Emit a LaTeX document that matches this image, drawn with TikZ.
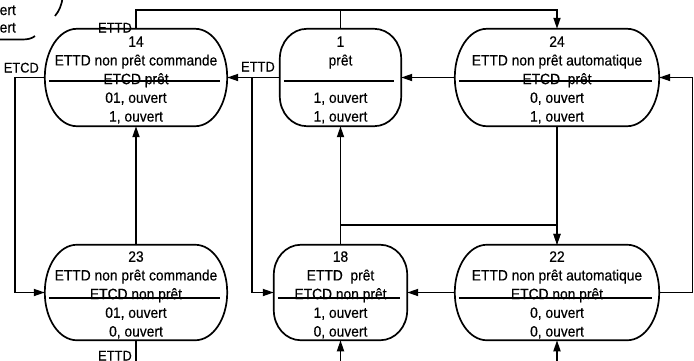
\documentclass[tikz,border=0pt]{standalone}
\usepackage{fontspec}
\setmainfont[FakeStretch=0.92,FakeBold=0.4]{Liberation Sans}
\usetikzlibrary{arrows.meta,calc}
% draws a capsule (elliptical corners) around a named node: #1 name, #2 rx, #3 ry
\newcommand\drawcapsule[3]{%
  \draw[border] ([xshift=#2]#1.north west) -- ([xshift=-#2]#1.north east)
    arc[start angle=90,end angle=0,x radius=#2,y radius=#3]
    -- ([yshift=#3]#1.south east)
    arc[start angle=0,end angle=-90,x radius=#2,y radius=#3]
    -- ([xshift=#2]#1.south west)
    arc[start angle=270,end angle=180,x radius=#2,y radius=#3]
    -- ([yshift=-#3]#1.north west)
    arc[start angle=180,end angle=90,x radius=#2,y radius=#3] -- cycle;}
% divider: #1 node, #2 vertical shift
\newcommand\drawdivider[2]{%
  \draw[border] ([xshift=4pt,yshift=#2]#1.west) -- ([xshift=-7pt,yshift=#2]#1.east);}
\newcommand\topstrut{\rule{0pt}{16.8pt}}
\newcommand\botstrut{\rule[-3.5pt]{0pt}{3.5pt}}
\tikzset{
  stnode/.style={draw=none, inner sep=0pt, align=center,
    font=\fontsize{15}{18.7}\selectfont},
  border/.style={line width=1.7pt},
  conn/.style={line width=1.7pt},
  arrowto/.style={-{Triangle[length=11pt,width=7pt]}},
  lbl/.style={inner sep=0pt, font=\fontsize{14}{16}\selectfont},
}
\begin{document}
\begin{tikzpicture}[x=1pt,y=-1pt]
\useasboundingbox (0,0) rectangle (694,360);
\clip (0,0) rectangle (694,360);
% states
\node[stnode, minimum width=182pt, minimum height=97pt] (s14) at (136,77.5)
  {\topstrut 14\\ETTD non prêt commande\\ETCD prêt\\01, ouvert\\1, ouvert\botstrut};
\node[stnode, minimum width=121pt, minimum height=97pt] (s1) at (340.5,77.5)
  {\topstrut 1\\prêt\\\\1, ouvert\\1, ouvert\botstrut};
\node[stnode, minimum width=204pt, minimum height=97pt] (s24) at (557,77.5)
  {\topstrut 24\\ETTD non prêt automatique\\ETCD~~prêt\\0, ouvert\\1, ouvert\botstrut};
\node[stnode, minimum width=182pt, minimum height=95pt] (s23) at (136,292.5)
  {\topstrut 23\\ETTD non prêt commande\\ETCD non prêt\\01, ouvert\\0, ouvert\botstrut};
\node[stnode, minimum width=133pt, minimum height=95pt] (s18) at (340.5,292.5)
  {\topstrut 18\\ETTD~~prêt\\ETCD non prêt\\1, ouvert\\0, ouvert\botstrut};
\node[stnode, minimum width=204pt, minimum height=95pt] (s22) at (557,292.5)
  {\topstrut 22\\ETTD non prêt automatique\\ETCD non prêt\\0, ouvert\\0, ouvert\botstrut};
\drawcapsule{s14}{32pt}{48.5pt}
\drawcapsule{s1}{27pt}{30pt}
\drawcapsule{s24}{32pt}{48.5pt}
\drawcapsule{s23}{32pt}{47.5pt}
\drawcapsule{s18}{27pt}{30pt}
\drawcapsule{s22}{32pt}{47.5pt}
\drawdivider{s14}{-3.5pt}
\drawdivider{s1}{-3.5pt}
\drawdivider{s24}{-3.5pt}
\drawdivider{s23}{-5.5pt}
\drawdivider{s18}{-5.5pt}
\drawdivider{s22}{-5.5pt}
% helper coordinates
\coordinate (topy) at (0,10);
\coordinate (midy) at (0,225);
\coordinate (jx1) at (252,0);
\coordinate (jx2) at (15,0);
\coordinate (jx3) at (692.5,0);
\coordinate (e23) at (136,368);
\coordinate (e18) at (340.5,368);
\coordinate (e22) at (557,368);
% connectors
\draw[conn,arrowto] (s14.north) -- (s14.north |- topy) -- (s24.north |- topy) -- (s24.north);
\draw[conn] (s1.north) -- (s1.north |- topy);
\draw[conn,arrowto] (s24.west) -- (s1.east);
\draw[conn,arrowto] (s1.west) -- (s14.east);
\draw[conn,arrowto] (s1.west -| jx1) |- (s18.west);
\draw[conn,arrowto] (s14.west) -- (s14.west -| jx2) |- (s23.west);
\draw[conn,arrowto] (s23.north) -- (s14.south);
\draw[conn] (s23.south) -- (e23);
\draw[conn,arrowto] (e18) -- (s18.south);
\draw[conn,arrowto] (e22) -- (s22.south);
\draw[conn,arrowto] (s18.north) -- (s1.south);
\draw[conn,arrowto] (s18.north) -- (s18.north |- midy) -- (s22.north |- midy) -- (s22.north);
\draw[conn,arrowto] (s24.south) -- (s22.north);
\draw[conn,arrowto] (s22.west) -- (s18.east);
\draw[conn,arrowto] (s22.east) -- (s22.east -| jx3) |- (s24.east);
% labels
\node[lbl, anchor=base east] (l14) at (132,32.5) {ETTD};
\node[lbl, anchor=base east] (l1) at (275,71.5) {ETTD};
\node[lbl, anchor=base east] (letcd) at (39,72.5) {ETCD};
\node[lbl, anchor=base east] (l23) at (132,360.5) {ETTD};
% fragment of a neighbouring figure (top-left corner)
\node[stnode, anchor=base east] (f1) at (16,15) {ouvert};
\node[stnode, anchor=base east] (f2) at (16,32.5) {ouvert};
\draw[border] (-20,39.5) -- (22,39.5) .. controls (28,39.5) and (32,38.5) .. (35,36);
\draw[border] (62.5,-3) .. controls (62,5) and (59,11) .. (55,16);
\end{tikzpicture}
\end{document}
